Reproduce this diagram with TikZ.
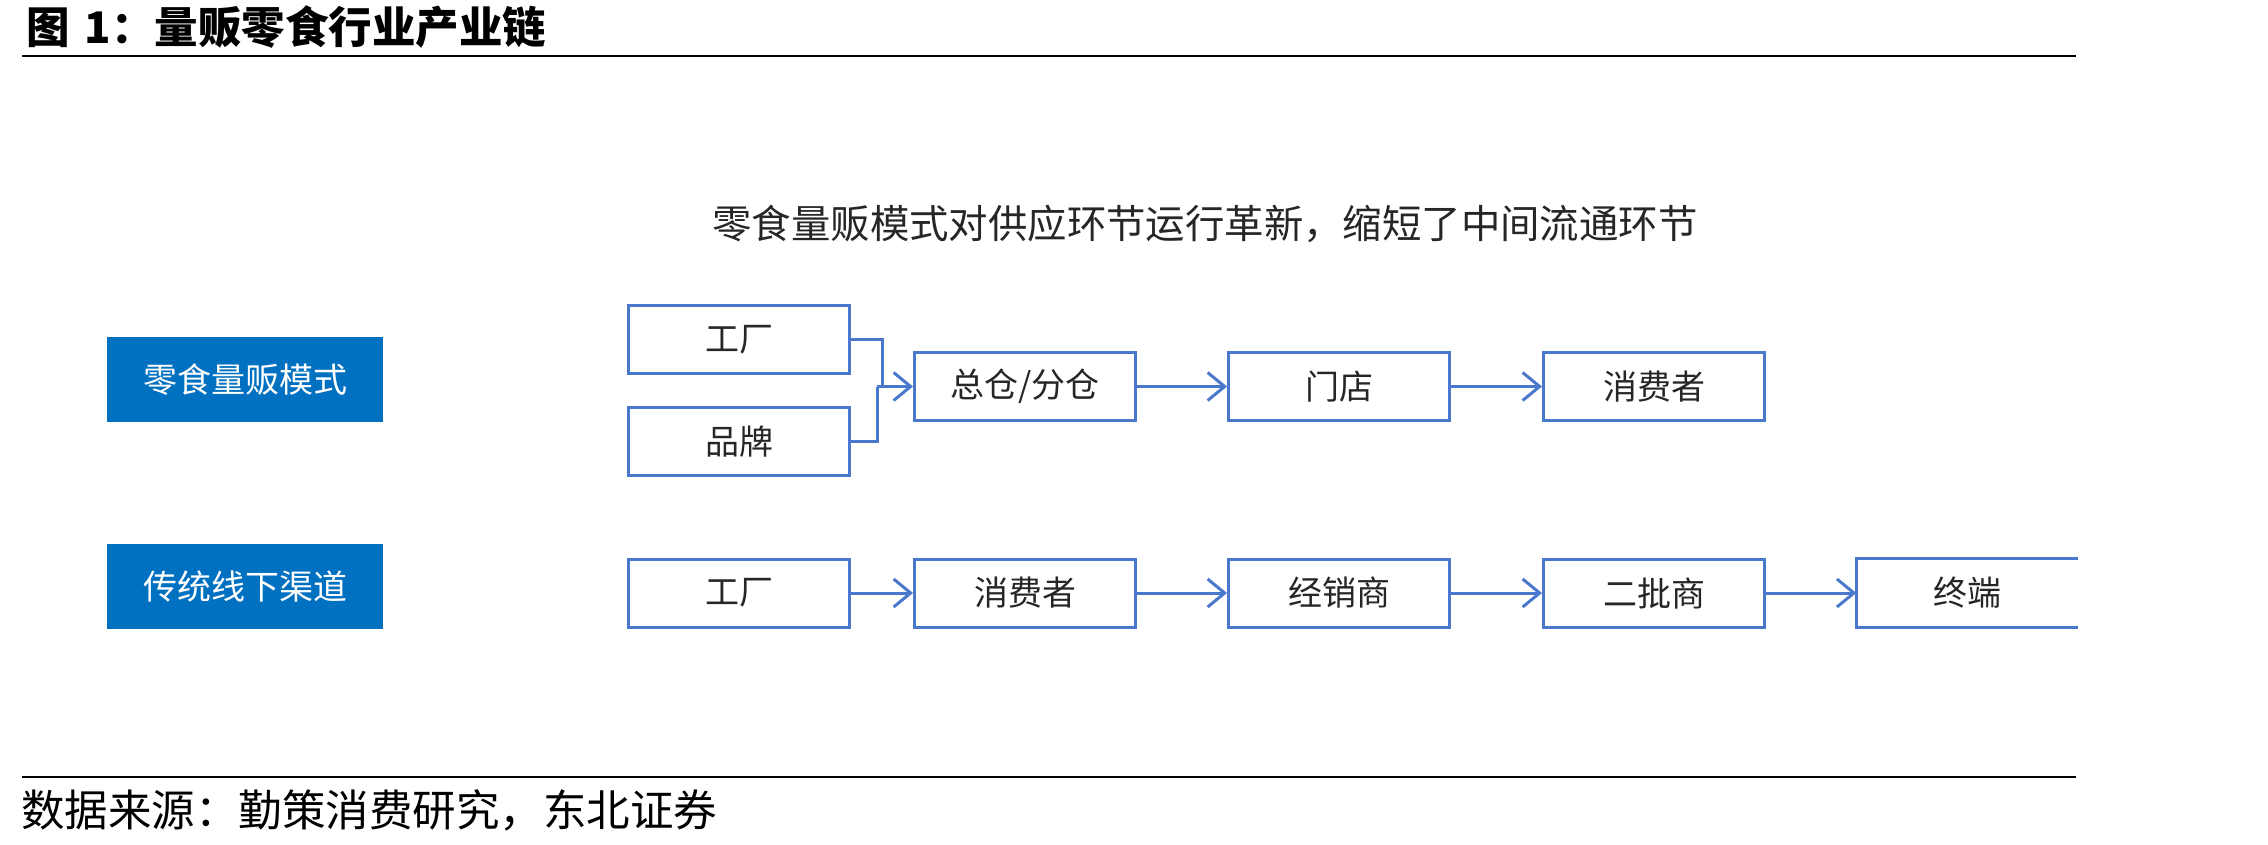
\documentclass[tikz,border=0pt]{standalone}
\usepackage{fontspec}
\setmainfont{Noto Sans CJK SC}
\usetikzlibrary{arrows.meta}
\definecolor{lineblue}{HTML}{4A78CC}
\definecolor{fillblue}{HTML}{0070C0}
\definecolor{boxtext}{HTML}{262626}
\begin{document}
\begin{tikzpicture}[x=1pt,y=-1pt,
  flowbox/.style={draw=lineblue, line width=3pt, fill=white, minimum width=221pt, minimum height=68pt, inner sep=0pt, text=boxtext, font=\fontsize{34}{40}\selectfont},
  openbox/.style={draw=none, minimum width=221pt, minimum height=68pt, inner sep=0pt, text=boxtext, font=\fontsize{34}{40}\selectfont},
  modebox/.style={fill=fillblue, draw=none, minimum width=276pt, minimum height=85pt, inner sep=0pt, text=white, font=\fontsize{34}{40}\selectfont},
  flow/.style={draw=lineblue, line width=3pt, -{Straight Barb[length=17pt,width=28pt]}},
  link/.style={draw=lineblue, line width=3pt},
  rulestyle/.style={line width=2.5pt, black},
  captext/.style={anchor=west, inner sep=0pt, font=\fontsize{43.5}{50}\selectfont}]
\useasboundingbox (0,0) rectangle (2268,844);
\fill[white] (0,0) rectangle (2268,844);

% title and rules
\node[captext, font=\fontsize{43.5}{50}\selectfont\bfseries] (title) at (26,27) {图\hspace{15pt}1：量贩零食行业产业链};
\coordinate (r1a) at (22,56);
\coordinate (r1b) at (2076,56);
\draw[rulestyle] (r1a) -- (r1b);
\coordinate (r2a) at (22,777);
\coordinate (r2b) at (2076,777);
\draw[rulestyle] (r2a) -- (r2b);
\node[captext] (source) at (21,810) {数据来源：勤策消费研究，东北证券};

% header
\node[inner sep=0pt, text=boxtext, font=\fontsize{39.4}{46}\selectfont] (head) at (1205,224) {零食量贩模式对供应环节运行革新，缩短了中间流通环节};

% mode labels
\node[modebox] (m1) at (245,379.5) {零食量贩模式};
\node[modebox] (m2) at (245,586.5) {传统线下渠道};

% top row
\node[flowbox] (f1) at (739,339.5) {工厂};
\node[flowbox] (b1) at (739,441.5) {品牌};
\node[flowbox] (w)  at (1025,386.5) {总仓/分仓};
\node[flowbox] (s)  at (1339,386.5) {门店};
\node[flowbox] (c1) at (1654,386.5) {消费者};

\coordinate (ja) at (882,386.5);
\coordinate (jb) at (877,386.5);
\draw[link] (f1.east) -| (ja);
\draw[link] (b1.east) -| (jb);
\draw[flow] (jb) -- (w.west);
\draw[flow] (w) -- (s);
\draw[flow] (s) -- (c1);

% bottom row
\node[flowbox] (f2) at (739,593) {工厂};
\node[flowbox] (c2) at (1025,593) {消费者};
\node[flowbox] (d)  at (1339,593) {经销商};
\node[flowbox] (e)  at (1654,593) {二批商};
\node[openbox] (t)  at (1967,593) {终端};
\draw[link] (t.north east) -- (t.north west) -- (t.south west) -- (t.south east);

\draw[flow] (f2) -- (c2);
\draw[flow] (c2) -- (d);
\draw[flow] (d) -- (e);
\draw[flow] (e) -- (t);
\end{tikzpicture}
\end{document}
